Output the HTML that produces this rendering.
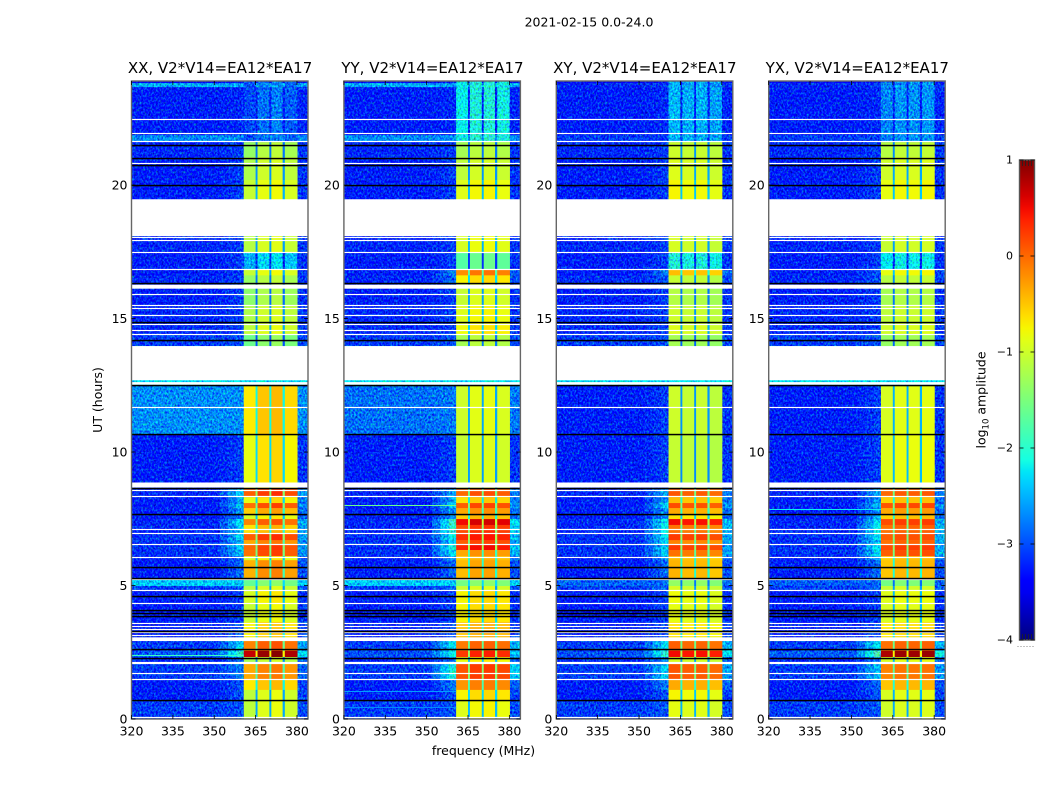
<!DOCTYPE html>
<html lang="en">
<head>
<meta charset="utf-8">
<title>2021-02-15 0.0-24.0</title>
<style>
html,body{margin:0;padding:0;background:#fff;width:1050px;height:800px;overflow:hidden}
svg{display:block}
text{font-family:"DejaVu Sans","Liberation Sans",sans-serif;fill:#000}
</style>
</head>
<body>
<svg id="chart" xmlns="http://www.w3.org/2000/svg" width="1050" height="800" viewBox="0 0 1050 800">
  <defs>
    <filter id="speckle" filterUnits="userSpaceOnUse" x="0" y="0" width="1050" height="800" color-interpolation-filters="sRGB">
      <feTurbulence type="fractalNoise" baseFrequency="0.55 0.42" numOctaves="2" seed="7" result="n"/>
      <feColorMatrix in="n" type="matrix" values="0 0 0 0 0.5  1 0 0 0 0  0 1 0 0 0.1  0 0 0 0 1" result="m"/>
      <feComposite in="SourceGraphic" in2="m" operator="arithmetic" k1="0" k2="1" k3="1.3" k4="-0.72" result="mix"/>
      <feComposite in="mix" in2="SourceGraphic" operator="in"/>
    </filter>
    <linearGradient id="jet-gradient" x1="0" y1="1" x2="0" y2="0"></linearGradient>
  </defs>
  <text x="589" y="26.5" font-size="12.5" text-anchor="middle">2021-02-15 0.0-24.0</text>
  <text x="483.5" y="755" font-size="12.5" text-anchor="middle">frequency (MHz)</text>
  <text transform="translate(102,400) rotate(-90)" font-size="12.5" text-anchor="middle">UT (hours)</text>
  <text transform="translate(985.5,400) rotate(-90)" font-size="12.5" text-anchor="middle">log<tspan font-size="8.5" dy="3">10</tspan><tspan dy="-3"> amplitude</tspan></text>
  <g id="panels"></g>
  <g id="colorbar"></g>
</svg>
<script>
// ---- chart data (log10 amplitude, hours, MHz) ----
const panelTitles = ['XX, V2*V14=EA12*EA17','YY, V2*V14=EA12*EA17','XY, V2*V14=EA12*EA17','YX, V2*V14=EA12*EA17'];
const xTicks = [320,335,350,365,380];
const yTicks = [0,5,10,15,20];
const colorTicks = [1,0,-1,-2,-3,-4];
const freqMin = 320, freqMax = 384, hourMin = 0, hourMax = 23.9, levelMin = -4, levelMax = 1;

// band edges in hours, top to bottom (45 bands)
const bandEdgeHours = [23.9,23.82,23.67,21.87,21.61,21.05,20.19,19.47,18.09,17.49,16.85,16.62,16.3,15.51,14.75,14.39,13.97,12.51,10.67,8.84,8.65,8.31,8.09,7.9,7.68,7.49,7.27,6.97,6.7,6.52,6.33,6.1,5.95,5.21,4.98,4.83,4.31,3.63,2.92,2.55,2.32,2.06,1.46,1.09,0.71,0];

const backgroundXX = [-3.3,-2.45,-3.15,-2.6,-3.1,-3.15,-3.15,-3.15,-3.1,-3.15,-3.15,-3.1,-3.15,-3.1,-3.1,-3,-2.2,-2.6,-3.15,-3.1,-3.1,-3.15,-3.15,-3.15,-3.15,-3.1,-3.1,-3.05,-3.05,-3.05,-3.05,-3.15,-3.15,-2.3,-3,-3.15,-3.15,-3.15,-3,-2.85,-3.1,-3,-3.15,-3.15,-3];
const backgroundYY = [-3.3,-2.45,-3.15,-2.6,-3.1,-3.15,-3.15,-3.15,-3.1,-3.15,-3.15,-3.1,-3.15,-3.1,-3.1,-3,-2.2,-2.75,-3.15,-3.1,-3.1,-3.15,-3.15,-3.15,-3.15,-3.1,-3.1,-3.05,-3.05,-3.05,-3.05,-3.15,-3.15,-2.3,-3,-3.15,-3.15,-3.15,-3,-2.9,-3.1,-3,-3.15,-3.15,-3];
const backgroundXY = [-3.3,-3.1,-3.15,-3,-3.1,-3.15,-3.15,-3.15,-3.1,-3.15,-3.15,-3.1,-3.15,-3.1,-3.1,-3,-2.2,-3.15,-3.15,-3.1,-3.1,-3.15,-3.15,-3.15,-3.15,-3.1,-3.1,-3.05,-3.05,-3.05,-3.05,-3.15,-3.15,-2.8,-3,-3.15,-3.15,-3.15,-3,-2.9,-3.1,-3,-3.15,-3.15,-3];
const backgroundYX = [-3.3,-3.1,-3.15,-3,-3.1,-3.15,-3.15,-3.15,-3.1,-3.15,-3.15,-3.1,-3.15,-3.1,-3.1,-3,-2.2,-3.15,-3.15,-3.1,-3.1,-3.15,-3.15,-3.15,-3.15,-3.1,-3.1,-3.05,-3.05,-3.05,-3.05,-3.15,-3.15,-2.85,-3,-3.15,-3.15,-3.15,-3,-2.85,-3.1,-3,-3.15,-3.15,-3];

const signalXX = [-2.8,-2.7,-2.8,-2.8,-1.2,-1.05,-0.9,-1,-1,-2.3,-0.9,-1.2,-1.25,-1.05,-0.95,-1.45,-2.2,-0.55,-0.7,-0.7,0.2,-0.7,0.1,-0.4,-0.8,0,-0.5,0.2,-0.2,0.15,0.1,-0.8,-0.25,-1.5,-1,-0.8,-0.9,-0.6,0,0.85,-1.1,-0.2,-0.55,-0.95,-0.95];
const signalYY = [-2.05,-2.05,-2.05,-2,-1.2,-1.05,-0.85,-1,-0.9,-1.7,-0.15,-0.7,-1,-0.85,-0.75,-1.2,-2.2,-0.95,-1,-1,0.05,-0.6,0.1,-0.3,-0.5,0.55,0.2,0.35,0.1,0.4,-0.3,-0.5,-0.4,-1.5,-1,-0.7,-0.7,-0.45,-0.05,0.3,-0.8,0.15,-0.2,-0.7,-0.85];
const signalXY = [-2.45,-2.5,-2.45,-2.45,-1.05,-0.95,-0.8,-1,-1,-2,-0.5,-1.1,-1.2,-1.05,-0.95,-1.3,-2.2,-1.05,-1.1,-1,0.05,-0.5,0.1,-0.4,-0.7,0.45,-0.1,0.2,-0.2,0.2,-0.1,-0.5,-0.45,-1.4,-1,-0.85,-0.9,-0.7,0,0.45,-1,0.05,-0.4,-0.8,-0.9];
const signalYX = [-2.6,-2.6,-2.6,-2.6,-1.1,-0.95,-0.8,-1,-1,-2.1,-0.8,-1.1,-1.2,-1.05,-0.95,-1.3,-2.2,-0.9,-0.85,-1,0.05,-0.5,0.15,-0.3,-0.5,0.2,0,0.1,0,0.2,0.1,-0.5,-0.45,-1.5,-1,-0.85,-0.9,-0.65,0,0.85,-0.9,-0.1,-0.45,-0.9,-0.95];

const skirtXX = [-3.2,-2.5,-3.1,-2.6,-3,-3,-3,-3,-3,-3,-3,-3,-3,-3,-3,-2.9,-2.2,-2.6,-3,-3,-2.3,-2.5,-2.4,-2.6,-2.8,-2.2,-2.3,-2.3,-2.4,-2.3,-2.4,-2.8,-2.8,-2.3,-2.8,-3,-3,-2.9,-2.3,-1.9,-2.8,-2.7,-2.9,-2.9,-2.9];
const skirtYY = [-3.2,-2.5,-3.1,-2.6,-3,-3,-3,-3,-3,-3,-2.7,-2.8,-3,-3,-3,-2.9,-2.2,-2.7,-3,-3,-2.5,-2.5,-2.3,-2.6,-2.6,-1.8,-1.9,-2.1,-2.3,-2,-2.2,-2.6,-2.8,-2.3,-2.8,-3,-3,-2.9,-2.2,-2.1,-2.7,-2,-2.7,-2.9,-2.9];
const skirtXY = [-3.2,-3,-3.1,-3,-3,-3,-3,-3,-3,-3,-2.7,-2.9,-3,-3,-3,-2.9,-2.2,-3,-3,-3,-2.5,-2.6,-2.3,-2.6,-2.6,-2.1,-2.1,-2.2,-2.3,-2.3,-2.3,-2.6,-2.8,-2.8,-2.8,-3,-3,-2.9,-2.2,-1.9,-2.7,-2.3,-2.7,-2.9,-2.9];
const skirtYX = [-3.2,-3,-3.1,-3,-3,-3,-3,-3,-3,-3,-2.9,-2.9,-3,-3,-3,-2.9,-2.2,-3,-3,-3,-2.5,-2.6,-2.4,-2.6,-2.5,-2.2,-2.1,-2.2,-2.3,-2.2,-2.2,-2.5,-2.8,-2.8,-2.8,-3,-3,-2.9,-2.2,-1.7,-2.7,-2.4,-2.8,-2.9,-2.9];

const channelOffsetXX = [-0.15,0.05,0.12,-0.05];
const channelOffsetYY = [-0.05,0.08,0.1,0.02];
const channelOffsetXY = [0.05,0,0.02,-0.06];
const channelOffsetYX = [-0.05,0.03,0.02,0.04];

// spectral windows in MHz: start and stop of each channel block
const channelStart = [360.7,365.7,370.7,375.6];
const channelStop = [365,370,374.8,380.1];
const skirtStart = [352,355,358];
const skirtWeight = [0.3,0.65,1];

// narrow RFI lines: hour, level and panel index
const thinLineHours = [2.39,8.01,7.88,1.05,0.45];
const thinLineLevels = [-1.9,-1.6,-2.2,-2.6,-2.7];
const thinLinePanels = [0,1,3,1,1];

// flagged data
const whiteGapTop = [19.47,16.27,13.97,12.62,8.86,3.06];
const whiteGapBottom = [18.09,16.12,12.69,12.52,8.67,2.92];
const whiteLineHours = [22.47,21.94,21.66,20.84,18.04,17.94,17.5,16.85,15.91,15.51,15.39,15.14,14.78,14.56,14.41,11.69,8.58,8.36,7.11,6.97,6.54,6.05,5.25,4.82,4.33,3.6,3.5,3.39,3.27,3.15,2.15,2.08,1.71,1.48,0.09];
const blackLineHours = [21.5,21.03,20.75,20.02,16.34,14.88,14.19,12.5,10.69,8.65,7.67,5.71,5.28,4.6,4.07,3.98,3.86,3.3,2.61,2.28,0.71];

const backgrounds = [backgroundXX,backgroundYY,backgroundXY,backgroundYX];
const signals = [signalXX,signalYY,signalXY,signalYX];
const skirts = [skirtXX,skirtYY,skirtXY,skirtYX];
const channelOffsets = [channelOffsetXX,channelOffsetYY,channelOffsetXY,channelOffsetYX];

// ---- rendering ----
const NS = 'http://www.w3.org/2000/svg';
const plotTop = 81, plotBottom = 719, plotWidth = 176.5, firstLeft = 131.5, panelStep = 212.4;
const cbLeft = 1019.5, cbRight = 1034.5, cbTop = 160, cbBottom = 640;

function make(tag, attrs, parent){
  const el = document.createElementNS(NS, tag);
  for (const k in attrs) el.setAttribute(k, attrs[k]);
  parent.appendChild(el);
  return el;
}
function ramp(t, pts){
  if (t <= pts[0][0]) return pts[0][1];
  for (let i = 1; i < pts.length; i++){
    if (t <= pts[i][0]){
      const a = pts[i-1], b = pts[i];
      return a[1] + (b[1]-a[1])*(t-a[0])/(b[0]-a[0]);
    }
  }
  return pts[pts.length-1][1];
}
const redRamp = [[0,0],[0.35,0],[0.66,1],[0.89,1],[1,0.5]];
const greenRamp = [[0,0],[0.125,0],[0.375,1],[0.64,1],[0.91,0],[1,0]];
const blueRamp = [[0,0.5],[0.11,1],[0.34,1],[0.65,0],[1,0]];
function jet(t){
  const c = x => Math.round(255*x);
  return 'rgb(' + c(ramp(t,redRamp)) + ',' + c(ramp(t,greenRamp)) + ',' + c(ramp(t,blueRamp)) + ')';
}
function colorScale(level){
  return jet(Math.max(0, Math.min(1, (level-levelMin)/(levelMax-levelMin))));
}
function yScale(hour){
  return plotBottom - (hour-hourMin)/(hourMax-hourMin)*(plotBottom-plotTop);
}

const panelsRoot = document.getElementById('panels');

panelTitles.forEach(function(title, p){
  const left = firstLeft + p*panelStep;
  const xScale = f => left + (f-freqMin)/(freqMax-freqMin)*plotWidth;
  const panel = make('g', {}, panelsRoot);
  
  
  const noisy = make('g', {filter:'url(#speckle)'}, panel);
  
  
  const clean = make('g', {}, panel);
  
  

  function cell(group, f0, f1, h0, h1, level){
    const r = make('rect', {
      x: xScale(f0).toFixed(2),
      y: yScale(h0).toFixed(2),
      width: (xScale(f1)-xScale(f0)+0.3).toFixed(2),
      height: (yScale(h1)-yScale(h0)+0.3).toFixed(2),
      fill: colorScale(level)
    }, group);
    
    
  }

  for (let b = 0; b < bandEdgeHours.length-1; b++){
    const h0 = bandEdgeHours[b], h1 = bandEdgeHours[b+1];
    const bg = backgrounds[p][b], sig = signals[p][b], sk = skirts[p][b];
    cell(noisy, freqMin, skirtStart[0], h0, h1, bg);
    skirtStart.forEach(function(f, i){
      const stop = i+1 < skirtStart.length ? skirtStart[i+1] : channelStart[0];
      cell(noisy, f, stop, h0, h1, bg + (sk-bg)*skirtWeight[i]);
    });
    const group = sig < -1.7 ? noisy : clean;
    channelStart.forEach(function(f, c){
      cell(group, f, channelStop[c], h0, h1, sig + channelOffsets[p][c]);
      const nextStart = c+1 < channelStart.length ? channelStart[c+1] : freqMax;
      const gapLevel = c+1 < channelStart.length ? Math.max(bg, sig-1.6) : bg + (sk-bg)*0.7;
      cell(c+1 < channelStart.length ? group : noisy, channelStop[c], nextStart, h0, h1, gapLevel);
    });
  }

  thinLineHours.forEach(function(h, i){
    if (thinLinePanels[i] !== p) return;
    const line = make('rect', {x:xScale(freqMin), y:Math.round(yScale(h)), width:xScale(channelStart[0])-xScale(freqMin), height:1, fill:colorScale(thinLineLevels[i])}, panel);
    
    
  });

  whiteGapTop.forEach(function(h, i){
    const gap = make('rect', {x:left, y:yScale(h), width:plotWidth, height:yScale(whiteGapBottom[i])-yScale(h), fill:'#fff'}, panel);
    
    
  });
  whiteLineHours.forEach(function(h){
    const line = make('rect', {x:left, y:Math.round(yScale(h))-0.1, width:plotWidth, height:1.2, fill:'#fff'}, panel);
    
    
  });
  blackLineHours.forEach(function(h){
    const line = make('rect', {x:left, y:Math.round(yScale(h))-0.2, width:plotWidth, height:1.5, fill:'#000'}, panel);
    
    
  });

  const frame = make('rect', {x:left, y:plotTop, width:plotWidth, height:plotBottom-plotTop, fill:'none', stroke:'#666', 'stroke-width':1.4}, panel);
  
  

  xTicks.forEach(function(f){
    const x = xScale(f);
    const tickBottom = make('line', {x1:x, x2:x, y1:plotBottom, y2:plotBottom-4, stroke:'#000', 'stroke-width':0.8}, panel);
    
    
    const tickTop = make('line', {x1:x, x2:x, y1:plotTop, y2:plotTop+4, stroke:'#000', 'stroke-width':0.8}, panel);
    
    
    const label = make('text', {x:x, y:735.5, 'font-size':12.5, 'text-anchor':'middle'}, panel);
    label.textContent = f;
    
    
  });
  yTicks.forEach(function(h){
    const y = yScale(h);
    const tickLeft = make('line', {x1:left, x2:left+4, y1:y, y2:y, stroke:'#000', 'stroke-width':0.8}, panel);
    
    
    const tickRight = make('line', {x1:left+plotWidth, x2:left+plotWidth-4, y1:y, y2:y, stroke:'#000', 'stroke-width':0.8}, panel);
    
    
    const label = make('text', {x:left-4, y:y+4.5, 'font-size':12.5, 'text-anchor':'end'}, panel);
    label.textContent = h;
    
    
  });

  const heading = make('text', {x:left+plotWidth/2+0.3, y:73, 'font-size':15, 'text-anchor':'middle'}, panel);
  heading.textContent = title;
  
  
});

// colorbar
const gradient = document.getElementById('jet-gradient');
for (let i = 0; i <= 40; i++){
  make('stop', {offset:(i/40), 'stop-color':jet(i/40)}, gradient);
}
const cbRoot = document.getElementById('colorbar');
const cbFill = make('rect', {x:cbLeft, y:cbTop, width:cbRight-cbLeft, height:cbBottom-cbTop, fill:'url(#jet-gradient)', stroke:'#555', 'stroke-width':1.4}, cbRoot);


const cbScale = v => cbBottom - (v-levelMin)/(levelMax-levelMin)*(cbBottom-cbTop);
colorTicks.forEach(function(v){
  const y = cbScale(v);
  const tickLeft = make('line', {x1:cbLeft, x2:cbLeft+4, y1:y, y2:y, stroke:'#000', 'stroke-width':0.8}, cbRoot);
  
  
  const tickRight = make('line', {x1:cbRight-4, x2:cbRight, y1:y, y2:y, stroke:'#000', 'stroke-width':0.8}, cbRoot);
  
  
  const label = make('text', {x:1013, y:y+3.5, 'font-size':11, 'text-anchor':'end'}, cbRoot);
  label.textContent = String(v).replace('-', '\u2212');
  
  
});
for (let i = 1; i <= 4; i++){
  const x = cbLeft + i*3;
  const minorTop = make('line', {x1:x, x2:x, y1:cbTop, y2:cbTop+6, stroke:'#222', 'stroke-width':0.8}, cbRoot);
  
  
  const minorBottom = make('line', {x1:x, x2:x, y1:cbBottom, y2:cbBottom-6, stroke:'#222', 'stroke-width':0.8}, cbRoot);
  
  
}
const dots = make('line', {x1:1017.5, x2:1035, y1:646.5, y2:646.5, stroke:'#888', 'stroke-width':1, 'stroke-dasharray':'1 2'}, cbRoot);


</script>
</body>
</html>
